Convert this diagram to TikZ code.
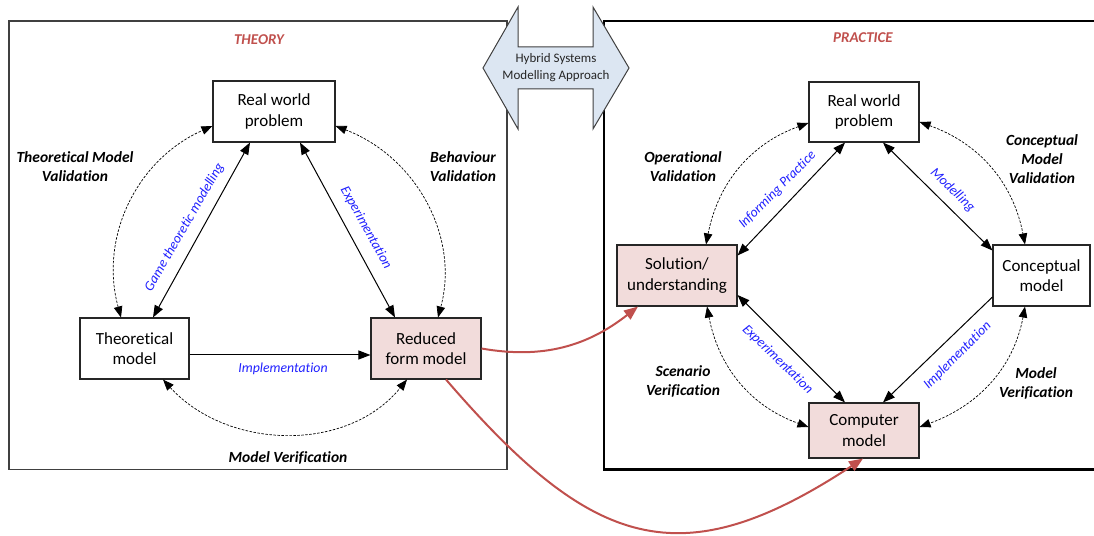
\documentclass[tikz,border=0pt]{standalone}
\usepackage{fontspec}
\setmainfont{Carlito}[Ligatures=CommonOff]
\usetikzlibrary{arrows.meta,calc}
\definecolor{pinkfill}{HTML}{F2DCDB}
\definecolor{arrowfill}{HTML}{DCE6F2}
\definecolor{titlered}{HTML}{C0504D}
\definecolor{lblblue}{HTML}{2020FF}
\definecolor{framegray}{HTML}{404040}
\begin{document}
\begin{tikzpicture}[x=1pt,y=1pt,
  >={Triangle[length=12pt,width=9pt]},
  blk/.style={draw=black!85,line width=1.1pt,inner sep=0pt,align=center,font=\fontsize{17}{20.5}\selectfont},
  pinkblk/.style={blk,fill=pinkfill},
  vlabel/.style={font=\fontsize{15.5}{19}\selectfont\bfseries\itshape,align=center,inner sep=0pt},
  flabel/.style={font=\fontsize{13.8}{16}\selectfont\itshape,text=lblblue,inner sep=0pt},
  titlelbl/.style={font=\fontsize{15}{17}\selectfont\bfseries\itshape,text=titlered,inner sep=0pt},
  solidcon/.style={line width=1pt,black},
  dashcon/.style={line width=0.7pt,black,dash pattern=on 2.5pt off 1.5pt,{Triangle[length=11pt,width=8.5pt]}-{Triangle[length=11pt,width=8.5pt]}},
  redcon/.style={line width=2pt,titlered,-{Triangle[length=14pt,width=11pt]}}
]
\useasboundingbox (0,0) rectangle (1094,535);

% frames
\draw[framegray,line width=1.3pt] (9,514) rectangle (507,65.5);
\draw[black,line width=2.2pt] (1096,514) -- (604,514) -- (604,65.5) -- (1096,65.5);

% hybrid double arrow
\draw[fill=arrowfill,draw=framegray,line width=1pt]
  (483,467) -- (518,528) -- (518,488) -- (593,488) -- (593,528) -- (629,467)
  -- (593,406) -- (593,446) -- (518,446) -- (518,406) -- cycle;
\node[font=\fontsize{13}{17}\selectfont,align=center,text=black!85] (hyb) at (556,467) {Hybrid Systems\\Modelling Approach};

% titles
\node[titlelbl] (theory) at (259,495) {THEORY};
\node[titlelbl] (practice) at (863,497) {PRACTICE};

% THEORY nodes
\node[blk,minimum width=122pt,minimum height=61pt] (rw1) at (274,423.5) {Real world\\problem};
\node[blk,minimum width=109pt,minimum height=61pt] (theo) at (134.5,186.5) {Theoretical\\model};
\node[pinkblk,minimum width=110pt,minimum height=61pt] (red) at (426,186.5) {Reduced\\form model};

% PRACTICE nodes
\node[blk,minimum width=110pt,minimum height=60pt] (rw2) at (864,423) {Real world\\problem};
\node[pinkblk,minimum width=120pt,minimum height=61pt] (sol) at (677,259.5) {Solution/\\understanding};
\node[blk,minimum width=97pt,minimum height=61pt] (con) at (1041.5,259.5) {Conceptual\\model};
\node[pinkblk,minimum width=110pt,minimum height=55pt] (comp) at (864,104.5) {Computer\\model};

% THEORY connectors
\draw[solidcon,<->] ([xshift=-24pt]rw1.south) -- ([xshift=18.5pt]theo.north);
\draw[solidcon,<->] ([xshift=26pt]rw1.south) -- ([xshift=-31pt]red.north);
\draw[solidcon,->] ([yshift=-6.5pt]theo.east) -- ([yshift=-6.5pt]red.west);

\draw[dashcon] ([xshift=-13.5pt]theo.north) to[out=105.3,in=203.9] ([yshift=-14.5pt]rw1.west);
\draw[dashcon] ([yshift=-14.5pt]rw1.east) to[out=-20.9,in=75] ([xshift=12pt]red.north);
\draw[dashcon] ([xshift=28.5pt]theo.south) to[out=312.4,in=230.9] ([xshift=-19pt]red.south);

% PRACTICE connectors
\draw[solidcon,<->] ([xshift=-19pt]rw2.south) -- ([yshift=20pt]sol.east);
\draw[solidcon,<->] ([xshift=19pt]rw2.south) -- ([yshift=25pt]con.west);
\draw[solidcon,<->] ([yshift=-19.5pt]sol.east) -- ([xshift=-19pt]comp.north);
\draw[solidcon,->] ([yshift=-21.5pt]con.west) -- ([xshift=19pt]comp.north);

\draw[dashcon] ([yshift=-11pt]rw2.west) to[out=199.8,in=78.9] ([xshift=29pt]sol.north);
\draw[dashcon] ([yshift=-10pt]rw2.east) to[out=-19.7,in=100.9] ([xshift=-16.5pt]con.north);
\draw[dashcon] ([xshift=30pt]sol.south) to[out=280.8,in=160.3] ([yshift=3.5pt]comp.west);
\draw[dashcon] ([xshift=-16.5pt]con.south) to[out=-100.6,in=20] ([yshift=3.5pt]comp.east);

% red connectors
\draw[redcon] (red.east) to[out=-10,in=218] ([xshift=-39pt]sol.south);
\draw[redcon] ([xshift=20pt]red.south) .. controls (592,-14) and (680,-44) .. ([xshift=-1pt]comp.south);

% validation labels
\node[vlabel] (tmv) at (75,368.5) {Theoretical Model\\Validation};
\node[vlabel] (bv) at (463,368.5) {Behaviour\\Validation};
\node[vlabel] (mv1) at (288,77) {Model Verification};
\node[vlabel] (ov) at (683,368.5) {Operational\\Validation};
\node[vlabel] (cmv) at (1042,375.5) {Conceptual\\Model\\Validation};
\node[vlabel] (sv) at (683,154) {Scenario\\Verification};
\node[vlabel] (mv2) at (1036,151.5) {Model\\Verification};

% blue function labels
\node[flabel,rotate=60] (gtm) at (184.5,307.5) {Game theoretic modelling};
\node[flabel,rotate=-61] (exp1) at (366,307) {Experimentation};
\node[flabel] (imp1) at (283,166) {Implementation};
\node[flabel,rotate=45] (inf) at (777.5,345) {Informing Practice};
\node[flabel,rotate=-44] (mod) at (952.5,345) {Modelling};
\node[flabel,rotate=-44] (exp2) at (777.5,175.5) {Experimentation};
\node[flabel,rotate=45] (imp2) at (957.5,179.5) {Implementation};
\end{tikzpicture}
\end{document}
